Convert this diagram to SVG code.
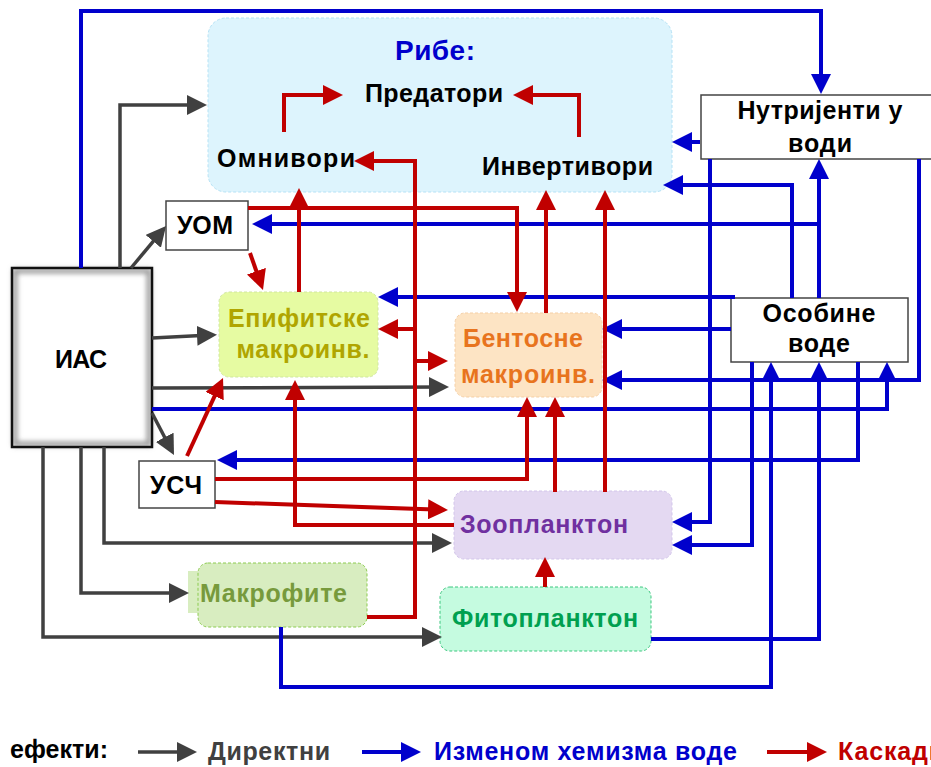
<svg xmlns="http://www.w3.org/2000/svg" width="931" height="767" viewBox="0 0 931 767">
  <style>
    text { font-family: "Liberation Sans", Arial, sans-serif; font-weight: bold; }
    .lbl { font-size: 25px; fill: #000; }
    .box { fill: #fff; stroke: #444; stroke-width: 1.5; }
    .g { fill: none; stroke: #404040; stroke-width: 3.5; marker-end: url(#ag); }
    .b { fill: none; stroke: #0000CC; stroke-width: 4; marker-end: url(#ab); }
    .r { fill: none; stroke: #C00000; stroke-width: 4; marker-end: url(#ar); }
  </style>
  <defs>
    <marker id="ag" markerUnits="userSpaceOnUse" markerWidth="20" markerHeight="20" refX="14" refY="10" orient="auto">
      <path d="M0,0 L20,10 L0,20 z" fill="#404040"/>
    </marker>
    <marker id="ab" markerUnits="userSpaceOnUse" markerWidth="20" markerHeight="20" refX="14" refY="10" orient="auto">
      <path d="M0,0 L20,10 L0,20 z" fill="#0000CC"/>
    </marker>
    <marker id="ar" markerUnits="userSpaceOnUse" markerWidth="20" markerHeight="20" refX="14" refY="10" orient="auto">
      <path d="M0,0 L20,10 L0,20 z" fill="#C00000"/>
    </marker>
    <filter id="glow" x="-10%" y="-10%" width="120%" height="120%">
      <feGaussianBlur stdDeviation="2.5"/>
    </filter>
  </defs>

  <!-- fish group container -->
  <g id="ribe">
    <rect x="208" y="18" width="464" height="174" rx="18" fill="#DDF4FD" stroke="#B5E2F5" stroke-width="1" stroke-dasharray="3 2"/>
    <text x="435" y="60" font-size="28" fill="#0000CC" text-anchor="middle" textLength="80" lengthAdjust="spacing">Рибе:</text>
  </g>
  <g id="predatori"><text class="lbl" x="434" y="102" text-anchor="middle" textLength="138" lengthAdjust="spacing">Предатори</text></g>
  <g id="omnivori"><text class="lbl" x="217" y="167" textLength="138" lengthAdjust="spacing">Омнивори</text></g>
  <g id="invertivori"><text class="lbl" x="482" y="175" textLength="171" lengthAdjust="spacing">Инвертивори</text></g>

  <!-- trophic / habitat nodes -->
  <g id="epifitske">
    <rect x="219" y="292" width="159" height="85" rx="10" fill="#E6FBA2" stroke="#CFE6A0" stroke-width="1" stroke-dasharray="3 2"/>
    <text class="lbl" x="299" y="327" text-anchor="middle" style="fill:#B0A500" textLength="142" lengthAdjust="spacing">Епифитске</text>
    <text class="lbl" x="303" y="358" text-anchor="middle" style="fill:#B0A500" textLength="133" lengthAdjust="spacing">макроинв.</text>
  </g>
  <g id="bentosne">
    <rect x="455" y="313" width="147" height="84" rx="10" fill="#FDE4C4" stroke="#F5CFA5" stroke-width="1" stroke-dasharray="3 2"/>
    <text class="lbl" x="523" y="347" text-anchor="middle" style="fill:#E8741E" textLength="120" lengthAdjust="spacing">Бентосне</text>
    <text class="lbl" x="528" y="383" text-anchor="middle" style="fill:#E8741E" textLength="134" lengthAdjust="spacing">макроинв.</text>
  </g>
  <g id="zooplankton">
    <rect x="454" y="491" width="218" height="68" rx="10" fill="#E4D9F2" stroke="#D2C5EA" stroke-width="1" stroke-dasharray="3 2"/>
    <text class="lbl" x="544" y="533" text-anchor="middle" style="fill:#7030A0" textLength="168" lengthAdjust="spacing">Зоопланктон</text>
  </g>
  <g id="fitoplankton">
    <rect x="440" y="587" width="211" height="64" rx="10" fill="#C5FBE0" stroke="#3CC77F" stroke-width="1" stroke-dasharray="3 2"/>
    <text class="lbl" x="545" y="627" text-anchor="middle" style="fill:#00A050" textLength="186" lengthAdjust="spacing">Фитопланктон</text>
  </g>
  <g id="makrofite">
    <rect x="188" y="571" width="14" height="42" fill="#D8EDC0"/>
    <rect x="198" y="563" width="169" height="64" rx="10" fill="#D8EDC0" stroke="#8CCB50" stroke-width="1" stroke-dasharray="3 2"/>
    <text class="lbl" x="200" y="602" style="fill:#779A3C" textLength="147" lengthAdjust="spacing">Макрофите</text>
  </g>

  <!-- abiotic nodes -->
  <g id="nutrijenti">
    <rect class="box" x="701" y="95" width="240" height="64"/>
    <text class="lbl" x="820" y="119" text-anchor="middle" textLength="165" lengthAdjust="spacing">Нутријенти у</text>
    <text class="lbl" x="820" y="152" text-anchor="middle" textLength="64" lengthAdjust="spacing">води</text>
  </g>
  <g id="osobine">
    <rect class="box" x="731" y="298" width="177" height="64"/>
    <text class="lbl" x="819" y="322" text-anchor="middle" textLength="113" lengthAdjust="spacing">Особине</text>
    <text class="lbl" x="819" y="352" text-anchor="middle" textLength="62" lengthAdjust="spacing">воде</text>
  </g>
  <g id="uom">
    <rect class="box" x="166" y="201" width="82" height="49"/>
    <text class="lbl" x="205" y="234" text-anchor="middle" textLength="56" lengthAdjust="spacing">УОМ</text>
  </g>
  <g id="usch">
    <rect class="box" x="139" y="461" width="76" height="47"/>
    <text class="lbl" x="176" y="494" text-anchor="middle" textLength="52" lengthAdjust="spacing">УСЧ</text>
  </g>
  <g id="ias">
    <rect x="12" y="268" width="140" height="179" fill="#fff"/>
    <rect x="15" y="271" width="134" height="173" fill="none" stroke="#999" stroke-width="5" filter="url(#glow)"/>
    <rect x="12" y="268" width="140" height="179" fill="none" stroke="#111" stroke-width="2.5"/>
    <text x="81" y="368" font-size="25" text-anchor="middle" textLength="52" lengthAdjust="spacing">ИАС</text>
  </g>

  <!-- connectors -->
  <g id="connectors">
    <!-- direct effects of the invader -->
    <path class="g" d="M120,268 V105 H201"/>
    <path class="g" d="M131,268 L162.2,230.6"/>
    <path class="g" d="M152,338 L211,335"/>
    <path class="g" d="M152,388 L443,387"/>
    <path class="g" d="M152,413 L171.2,449.7"/>
    <path class="g" d="M104,447 V543 H446"/>
    <path class="g" d="M81,447 V593 H183"/>
    <path class="g" d="M43,447 V637 H436"/>

    <!-- effects through water chemistry -->
    <path class="b" d="M81,268 V11 H821 V88"/>
    <path class="b" d="M700,142 H678"/>
    <path class="b" d="M710,159 V522 H678"/>
    <path class="b" d="M792,298 V185 H669"/>
    <path class="b" d="M819,298 V165"/>
    <path class="b" d="M819,224 H258"/>
    <path class="b" d="M919,159 V380 H608"/>
    <path class="b" d="M152,409 H887 V368"/>
    <path class="b" d="M281,627 V687 H771 V368"/>
    <path class="b" d="M651,639 H819 V368"/>
    <path class="b" d="M752,362 V545 H678"/>
    <path class="b" d="M858,362 V460 H223"/>
    <path class="b" d="M735,297 H384"/>
    <path class="b" d="M731,329 H608"/>

    <!-- cascading effects -->
    <path class="r" d="M284,132 V95 H337"/>
    <path class="r" d="M579,137 V95 H519"/>
    <path class="r" d="M367,617 H415 V161 H360"/>
    <path class="r" d="M415,329 H384"/>
    <path class="r" d="M415,361 H442"/>
    <path class="r" d="M248,208 H517 V306"/>
    <path class="r" d="M250,253 L261,284.4"/>
    <path class="r" d="M299,292 V194"/>
    <path class="r" d="M546,313 V196"/>
    <path class="r" d="M605,492 V196"/>
    <path class="r" d="M187,456 L220.5,383.4"/>
    <path class="r" d="M215,479 H527 V403"/>
    <path class="r" d="M215,502 L442,509.8"/>
    <path class="r" d="M454,525 H295 V386"/>
    <path class="r" d="M555,492 V403"/>
    <path class="r" d="M545,587 V563"/>
  </g>

  <!-- legend -->
  <g id="legend">
    <text x="10" y="758" font-size="25" fill="#000" textLength="98" lengthAdjust="spacing">ефекти:</text>
    <path class="g" d="M138,752 H191"/>
    <text x="208" y="760" font-size="25" fill="#404040" textLength="122" lengthAdjust="spacing">Директни</text>
    <path class="b" d="M362,752 H415"/>
    <text x="434" y="760" font-size="25" fill="#0000CC" textLength="303" lengthAdjust="spacing">Изменом хемизма воде</text>
    <path class="r" d="M767,752 H821"/>
    <text x="838" y="760" font-size="25" fill="#C00000" textLength="122" lengthAdjust="spacing">Каскадни</text>
  </g>
</svg>
